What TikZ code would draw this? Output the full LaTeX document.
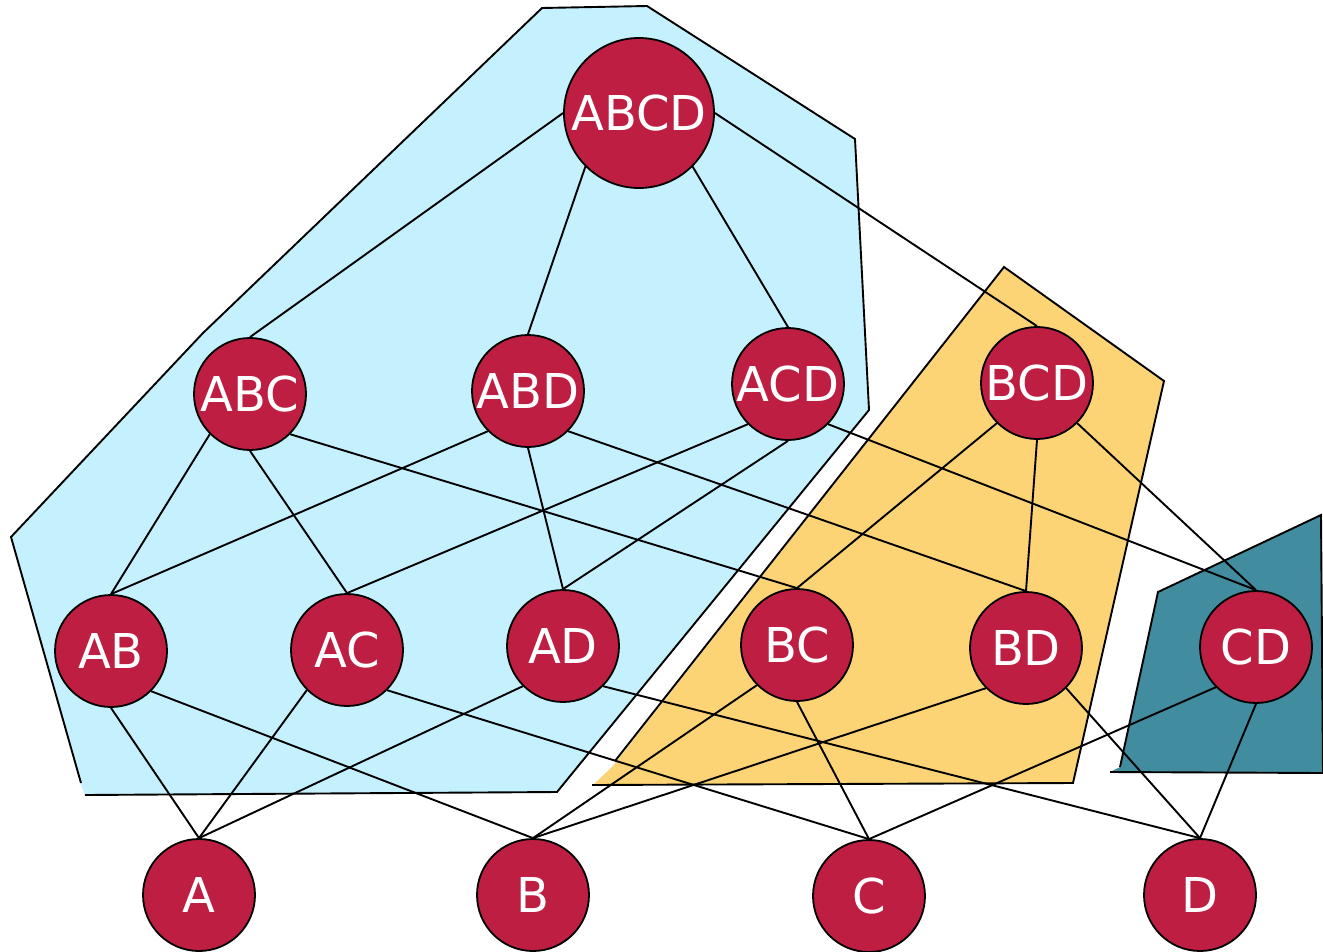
\documentclass[tikz,border=0pt]{standalone}
\usepackage{fontspec}
\setmainfont{DejaVu Sans}
\definecolor{nodered}{HTML}{BE1E42}
\definecolor{skyfill}{HTML}{C5F1FF}
\definecolor{sandfill}{HTML}{FDD475}
\definecolor{tealfill}{HTML}{428C9F}
\begin{document}
\begin{tikzpicture}[x=1pt,y=-1pt, line width=2pt,
  vtx/.style={circle, draw=black, line width=1.8pt, fill=nodered, text=white, minimum size=112pt, inner sep=0pt, font=\fontsize{48}{57}\selectfont},
  bigvtx/.style={vtx, minimum size=150pt, font=\fontsize{48}{57}\selectfont},
  edge/.style={draw=black, line width=1.9pt},
  outline/.style={draw=black, line width=1.9pt, line join=miter}]
\useasboundingbox (0,0) rectangle (1323,951);

% regions
\fill[skyfill] (542,8) -- (647,6) -- (855,139) -- (869,410) -- (557,792) -- (85,795) -- (81,785) -- (11,537) -- (203,333) -- cycle;
\draw[outline] (81,783) -- (11,537) -- (203,333) -- (542,8) -- (647,6) -- (855,139) -- (869,410) -- (557,792) -- (85,795);

\fill[sandfill] (1004,267) -- (1164,381) -- (1073,783) -- (593,785) -- (612,767) -- cycle;
\draw[outline] (615,761) -- (1004,267) -- (1164,381) -- (1073,783) -- (592,785);

\fill[tealfill] (1321,515) -- (1323,773) -- (1110,772) -- (1120,767) -- (1158,592) -- cycle;
\draw[outline] (1120,767) -- (1158,592) -- (1321,515) -- (1323,773);
\draw[outline] (1110,772) -- (1323,773);

% nodes
\node[bigvtx] (ABCD) at (639,113) {ABCD};
\node[vtx] (ABC) at (250,394) {ABC};
\node[vtx] (ABD) at (528,391) {ABD};
\node[vtx] (ACD) at (788,384) {ACD};
\node[vtx] (BCD) at (1037,383) {BCD};
\node[vtx] (AB) at (111,651) {AB};
\node[vtx] (AC) at (347,650) {AC};
\node[vtx] (AD) at (563,646) {AD};
\node[vtx] (BC) at (797,645) {BC};
\node[vtx] (BD) at (1026,648) {BD};
\node[vtx] (CD) at (1256,647) {CD};
\node[vtx] (A) at (199,895) {A};
\node[vtx] (B) at (533,895) {B};
\node[vtx] (C) at (869,896) {C};
\node[vtx] (D) at (1200,895) {D};

% edges
\draw[edge] (ABCD.west) -- (ABC.north);
\draw[edge] (ABCD.south west) -- (ABD.north);
\draw[edge] (ABCD.south east) -- (ACD.north);
\draw[edge] (ABCD.east) -- (BCD.north);
\draw[edge] (ABC.south west) -- (AB.north);
\draw[edge] (ABC.south) -- (AC.north);
\draw[edge] (ABC.south east) -- (BC.north);
\draw[edge] (ABD.south west) -- (AB.north);
\draw[edge] (ABD.south) -- (AD.north);
\draw[edge] (ABD.south east) -- (BD.north);
\draw[edge] (ACD.south west) -- (AC.north);
\draw[edge] (ACD.south) -- (AD.north);
\draw[edge] (ACD.south east) -- (CD.north);
\draw[edge] (BCD.south west) -- (BC.north);
\draw[edge] (BCD.south) -- (BD.north);
\draw[edge] (BCD.south east) -- (CD.north);
\draw[edge] (AB.south) -- (A.north);
\draw[edge] (AB.south east) -- (B.north);
\draw[edge] (AC.south west) -- (A.north);
\draw[edge] (AC.south east) -- (C.north);
\draw[edge] (AD.south west) -- (A.north);
\draw[edge] (AD.south east) -- (D.north);
\draw[edge] (BC.south west) -- (B.north);
\draw[edge] (BC.south) -- (C.north);
\draw[edge] (BD.south west) -- (B.north);
\draw[edge] (BD.south east) -- (D.north);
\draw[edge] (CD.south west) -- (C.north);
\draw[edge] (CD.south) -- (D.north);
\end{tikzpicture}
\end{document}
